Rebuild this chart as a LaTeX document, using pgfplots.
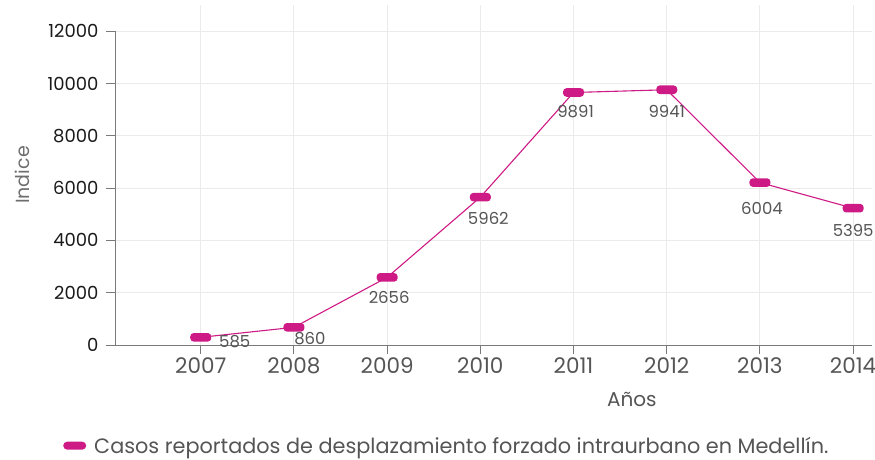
\documentclass[border=0pt]{standalone}
\usepackage{fontspec}
\setmainfont{Poppins}
\usepackage{pgfplots}
\usepackage{pgfplotstable}
\pgfplotsset{compat=1.18}
\definecolor{mag}{HTML}{CE1A85}
\definecolor{axgray}{HTML}{7A7A7A}
\definecolor{gridgray}{HTML}{EBEBEB}
\definecolor{lblgray}{HTML}{555555}
\definecolor{tickblack}{HTML}{1A1A1A}
\pgfdeclareplotmark{pill}{%
  \pgfpathmoveto{\pgfpoint{-7pt}{-4.3pt}}%
  \pgfpathlineto{\pgfpoint{7pt}{-4.3pt}}%
  \pgfpatharc{-90}{0}{3.5pt}%
  \pgfpathlineto{\pgfpoint{10.5pt}{0.8pt}}%
  \pgfpatharc{0}{90}{3.5pt}%
  \pgfpathlineto{\pgfpoint{-7pt}{4.3pt}}%
  \pgfpatharc{90}{180}{3.5pt}%
  \pgfpathlineto{\pgfpoint{-10.5pt}{-0.8pt}}%
  \pgfpatharc{180}{270}{3.5pt}%
  \pgfpathclose
  \pgfusepathqfill}
\pgfplotstableread{
x    y     lab   dx  dy
2007 294   585   34  -4
2008 676   860   16  -11
2009 2587  2656  2   -20
2010 5652  5962  8   -21
2011 9655  9891  2   -19
2012 9759  9941  0   -22
2013 6211  6004  2   -26
2014 5231  5395  0   -22
}\datatable
\begin{document}
\begin{tikzpicture}
\path[use as bounding box] (-115pt,-114pt) rectangle (760pt,345pt);
\begin{axis}[
  at={(0pt,0pt)}, anchor=south west,
  scale only axis, width=756.8pt, height=340pt,
  xmin=2006.08, xmax=2014.2, ymin=0, ymax=13000,
  xtick={2007,...,2014},
  ytick={0,2000,...,12000},
  scaled y ticks=false,
  /pgf/number format/assume math mode=true,
  /pgf/number format/1000 sep={},
  axis x line*=bottom, axis y line*=left,
  axis line style={-, draw=axgray, line width=0.9pt},
  y axis line style={draw=none},
  tick style={draw=axgray, line width=0.9pt},
  major tick length=9pt, tick align=outside,
  grid=major, grid style={gridgray, line width=0.9pt},
  yticklabel style={font=\fontsize{18}{20}\selectfont, text=tickblack, xshift=-4pt},
  xticklabel style={font=\fontsize{21.5}{23}\selectfont, text=lblgray},
  xlabel={Años}, ylabel={Indice},
  xlabel style={font=\fontsize{20}{22}\selectfont, text=lblgray, at={(axis description cs:0.683,-0.159)}, anchor=center},
  ylabel style={font=\fontsize{19}{21}\selectfont, text=lblgray!85, at={(axis description cs:-0.123,0.5)}, anchor=center, rotate=0},
  clip=false,
  legend style={draw=none, fill=none, inner sep=0pt, at={(axis description cs:-0.0687,-0.296)}, anchor=west, font=\fontsize{20.8}{22}\selectfont, text=lblgray},
  legend image code/.code={\fill[mag, draw=none, rounded corners=4pt] (0pt,-4pt) rectangle (23pt,4pt); \path[draw=none, fill=none] (0pt,0pt) -- (29pt,0pt);},
]
\draw[axgray, line width=0.9pt] (axis cs:2006.08,0) -- (axis cs:2006.08,12000);
\addplot[color=mag, line width=1.1pt, mark=pill, mark options={fill=mag},
  point meta=explicit symbolic,
  visualization depends on={\thisrow{dx}\as\dx},
  visualization depends on={\thisrow{dy}\as\dy},
  nodes near coords,
  nodes near coords style={anchor=center, xshift=\dx*1pt, yshift=\dy*1pt, text=lblgray, font=\fontsize{16.5}{18}\selectfont, inner sep=0pt},
] table[x=x, y=y, meta=lab] {\datatable};
\addlegendentry{Casos reportados de desplazamiento forzado intraurbano en Medellín.}
\end{axis}
\end{tikzpicture}
\end{document}
